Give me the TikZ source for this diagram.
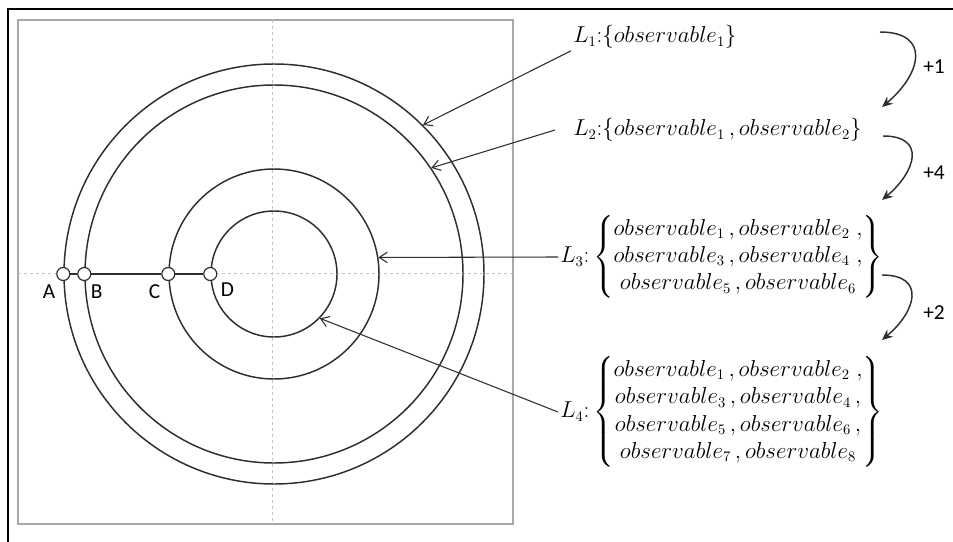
\documentclass[tikz,border=0pt]{standalone}
\usepackage{amsmath}
\usepackage{fontspec}
\newfontfamily\tagfont{Carlito}
\usetikzlibrary{arrows.meta,positioning}
\definecolor{ink}{HTML}{2E2E2E}
\definecolor{boxgrey}{HTML}{A8A8A8}
\definecolor{guidegrey}{HTML}{C6C6C6}

\begin{document}
\begin{tikzpicture}[x=0.75pt, y=-0.75pt]
  % --- the constants everything else is derived from (pixel units) ---------
  \def\cx{274}    % centre of the rings
  \def\cy{274}
  \def\gx{272}    % the two dashed guides
  \def\gy{273}

  \tikzset{
    ring/.style={circle, draw=ink, line width=1.1pt, inner sep=0pt},
    probe/.style={circle, draw=ink, fill=white, line width=0.9pt,
      inner sep=0pt, minimum size=9.75pt},
    guide/.style={draw=guidegrey, line width=0.6pt, dash pattern=on 2.5pt off 2pt},
    lead/.style={draw=ink, line width=0.8pt, -{Straight Barb[length=6pt, width=8pt]}},
    hop/.style={draw=ink, line width=1.1pt, -{Stealth[length=8pt, width=7pt]}},
    obs/.style={inner sep=1.5pt, font=\fontsize{16}{20.5}\selectfont},
    tag/.style={inner sep=0pt, font=\tagfont\fontsize{16}{19}\selectfont}}

  \useasboundingbox (0,0) rectangle (953,542);

  % ---- 1. frame, panel and the dashed guides -------------------------------
  \draw[line width=1.5pt] (8,542) -- (8,9) -- (953,9);
  \draw[boxgrey, line width=1.1pt] (18,20) rectangle (513,524);
  \draw[guide] (\gx,20) -- (\gx,524);
  \draw[guide] (18,\gy) -- (513,\gy);

  % ---- 2. the four rings ---------------------------------------------------
  \node[ring, minimum size=315pt]   (ring1) at (\cx,\cy) {};
  \node[ring, minimum size=283.5pt] (ring2) at (\cx,\cy) {};
  \node[ring, minimum size=157.5pt] (ring3) at (\cx,\cy) {};
  \node[ring, minimum size=94.5pt]  (ring4) at (\cx,\cy) {};

  % ---- 3. the probe points on the left radius ------------------------------
  \node[probe] (pa) at (ring1.west) {};
  \node[probe] (pb) at (ring2.west) {};
  \node[probe] (pc) at (ring3.west) {};
  \node[probe] (pd) at (ring4.west) {};
  \draw[ink, line width=1.1pt] (pa) -- (pb) -- (pc) -- (pd);

  \node[tag, below left=4pt and 2pt of pa]  (ta) {A};
  \node[tag, below right=4pt and 1pt of pb] (tb) {B};
  \node[tag, below left=4pt and 2pt of pc]  (tc) {C};
  \node[tag, below right=3pt and 4pt of pd] (td) {D};

  % ---- 4. the observable sets ----------------------------------------------
  \node[obs, anchor=west] (l1) at (571,37) {$L_1{:}\{observable_1\}$};
  \node[obs, anchor=west] (l2) at (571,130)
    {$L_2{:}\{observable_1\,, observable_2\}$};
  \node[obs, anchor=west] (l3) at (558,257)
    {$L_3{:}\left\{\begin{array}{@{}c@{}}
      observable_1\,, observable_2\;,\\
      observable_3\,, observable_4\;,\\
      observable_5\,, observable_6
    \end{array}\right\}$};
  \node[obs, anchor=west] (l4) at (558,412)
    {$L_4{:}\left\{\begin{array}{@{}c@{}}
      observable_1\,, observable_2\;,\\
      observable_3\,, observable_4\,,\\
      observable_5\,, observable_6\,,\\
      observable_7\,, observable_8
    \end{array}\right\}$};

  % ---- 5. leads from each set to its ring ----------------------------------
  \draw[lead] (l1.south west) -- (ring1.45);
  \draw[lead] (l2.west) ++(-16,0) -- (ring2.34);
  \draw[lead] (l3.west) -- (ring3.9);
  \draw[lead] (l4.west) -- (ring4.-44);

  % ---- 6. the increments between levels ------------------------------------
  \coordinate (s1) at (880,32);  \coordinate (e1) at (882,107);
  \coordinate (s2) at (883,136); \coordinate (e2) at (882,200);
  \coordinate (s3) at (882,275); \coordinate (e3) at (882,340);
  \draw[hop] (s1) to[out=0, in=40, looseness=1.75] (e1);
  \draw[hop] (s2) to[out=0, in=40, looseness=1.75] (e2);
  \draw[hop] (s3) to[out=0, in=40, looseness=1.75] (e3);
  \node[tag] (d1) at (934,67)  {+1};
  \node[tag] (d2) at (934,173) {+4};
  \node[tag] (d3) at (934,313) {+2};
\end{tikzpicture}
\end{document}
